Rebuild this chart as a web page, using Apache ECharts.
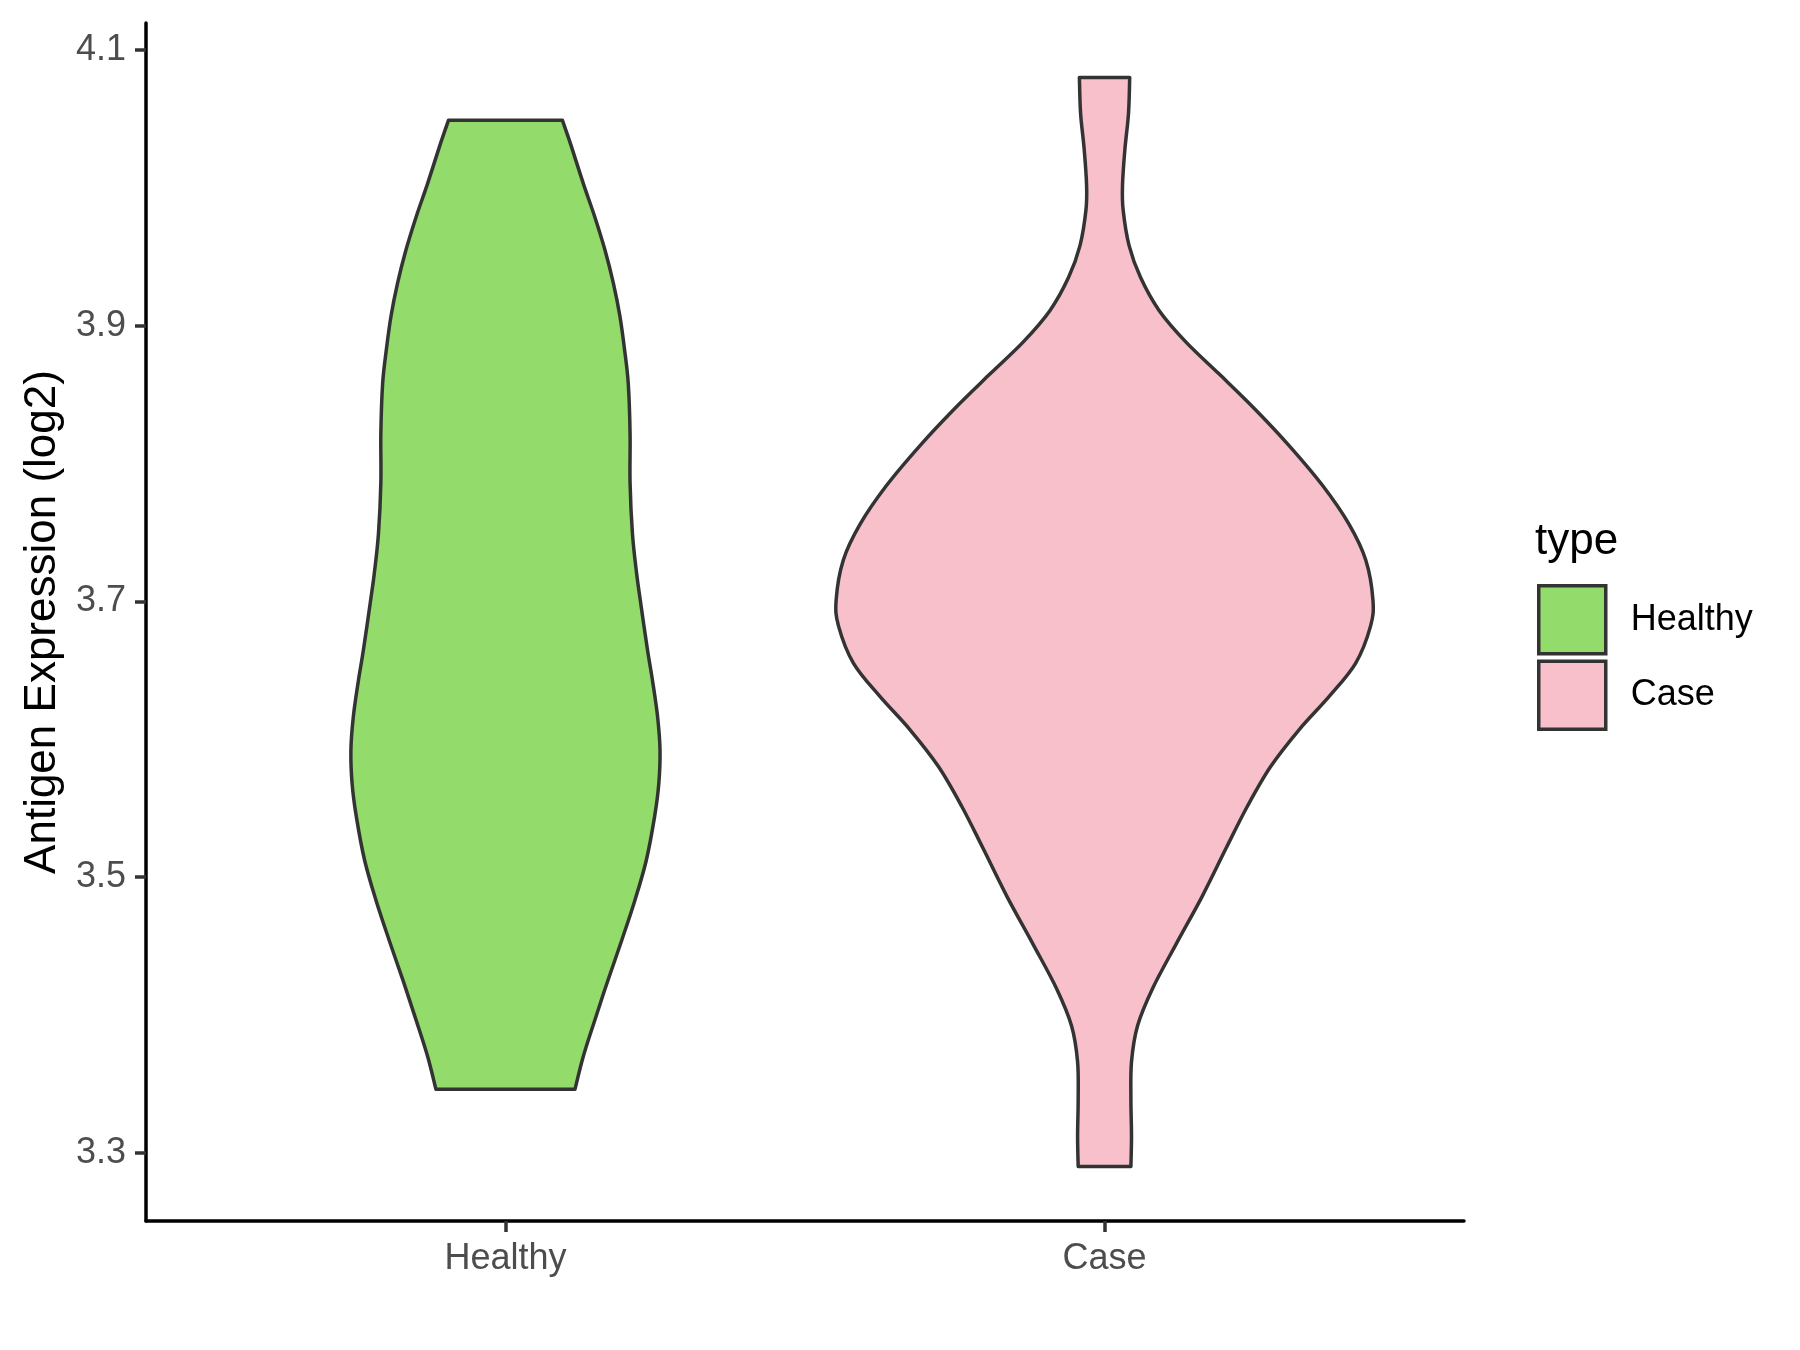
<!DOCTYPE html>
<html>
<head>
<meta charset="utf-8">
<script src="https://cdn.jsdelivr.net/npm/echarts@6/dist/echarts.min.js"></script>
<style>
  html, body { margin: 0; padding: 0; background: #fff; }
  #chart { width: 1800px; height: 1350px; }
</style>
</head>
<body>
<div id="chart"></div>
<script>
// categories on the x axis (positions 1 and 2)
const categories = ['Healthy', 'Case']
const yTicks = [3.3, 3.5, 3.7, 3.9, 4.1]

// violin outlines: y value and half width (in category units)
const healthyY = [4.049, 4.030, 4.003, 3.979, 3.955, 3.931, 3.907, 3.882, 3.858, 3.822, 3.786, 3.749, 3.720, 3.701, 3.665, 3.641, 3.616, 3.592, 3.568, 3.544, 3.512, 3.483, 3.454, 3.425, 3.396, 3.370, 3.346]
const healthyWidth = [0.095, 0.110, 0.130, 0.149, 0.166, 0.180, 0.191, 0.199, 0.205, 0.208, 0.208, 0.212, 0.219, 0.225, 0.237, 0.246, 0.254, 0.258, 0.256, 0.249, 0.235, 0.216, 0.194, 0.171, 0.149, 0.130, 0.116]

const caseY = [4.080, 4.054, 4.028, 4.002, 3.984, 3.958, 3.935, 3.911, 3.888, 3.865, 3.839, 3.813, 3.784, 3.756, 3.730, 3.701, 3.682, 3.655, 3.631, 3.607, 3.580, 3.551, 3.521, 3.486, 3.451, 3.419, 3.392, 3.366, 3.339, 3.312, 3.290]
const caseWidth = [0.042, 0.040, 0.034, 0.030, 0.031, 0.041, 0.060, 0.091, 0.136, 0.191, 0.252, 0.308, 0.364, 0.408, 0.436, 0.448, 0.444, 0.419, 0.375, 0.325, 0.277, 0.238, 0.203, 0.163, 0.119, 0.080, 0.055, 0.045, 0.044, 0.045, 0.044]

const colors = ['#93DB6B', '#F7C0CB']

// catmull-rom through the points -> svg cubic segments
function curve(pts) {
  let d = ''
  for (let i = 0; i < pts.length - 1; i++) {
    const p0 = pts[Math.max(i - 1, 0)]
    const p1 = pts[i]
    const p2 = pts[i + 1]
    const p3 = pts[Math.min(i + 2, pts.length - 1)]
    const c1 = [p1[0] + (p2[0] - p0[0]) / 6, p1[1] + (p2[1] - p0[1]) / 6]
    const c2 = [p2[0] - (p3[0] - p1[0]) / 6, p2[1] - (p3[1] - p1[1]) / 6]
    d += ' C' + c1[0] + ',' + c1[1] + ' ' + c2[0] + ',' + c2[1] + ' ' + p2[0] + ',' + p2[1]
  }
  return d
}

function violin(ys, ws, color) {
  return function (params, api) {
    const center = api.value(0)
    const left = ys.map((y, i) => api.coord([center - ws[i], y]))
    const right = ys.map((y, i) => api.coord([center + ws[i], y])).reverse()
    let d = 'M' + left[0][0] + ',' + left[0][1] + curve(left)
    d += ' L' + right[0][0] + ',' + right[0][1] + curve(right) + ' Z'
    return {
      type: 'path',
      shape: { pathData: d },
      style: { fill: color, stroke: '#333333', lineWidth: 3.5, lineJoin: 'round' }
    }
  }
}

const chart = echarts.init(document.getElementById('chart'))

chart.setOption({
  animation: false,
  backgroundColor: '#ffffff',
  textStyle: { fontFamily: 'Liberation Sans, Arial, sans-serif' },
  title: {
    text: 'type',
    left: 1535,
    top: 520,
    padding: 0,
    textStyle: { fontSize: 44, fontWeight: 'normal', color: '#000000' }
  },
  legend: {
    orient: 'vertical',
    left: 1537,
    top: 584,
    padding: 0,
    itemWidth: 67,
    itemHeight: 68,
    itemGap: 4,
    icon: 'rect',
    itemStyle: { borderColor: '#333333', borderWidth: 3.5 },
    textStyle: { fontSize: 36, color: '#000000', padding: [0, 0, 0, 20] },
    data: categories
  },
  grid: { left: 146, right: 336, top: 23, bottom: 129, outerBoundsMode: 'none', containLabel: false },
  xAxis: {
    type: 'value',
    min: 0.4,
    max: 2.6,
    axisLine: { lineStyle: { color: '#000000', width: 3.5 } },
    axisTick: { customValues: [1, 2], length: 11, lineStyle: { color: '#333333', width: 3.5 } },
    axisLabel: {
      customValues: [1, 2],
      formatter: v => categories[Math.round(v) - 1],
      fontSize: 36,
      color: '#4D4D4D',
      margin: 20
    },
    splitLine: { show: false }
  },
  yAxis: {
    type: 'value',
    min: 3.2505,
    max: 4.1195,
    name: 'Antigen Expression (log2)',
    nameLocation: 'middle',
    nameRotate: 90,
    nameGap: 80,
    nameTextStyle: { fontSize: 44, color: '#000000' },
    axisLine: { show: true, lineStyle: { color: '#000000', width: 3.5 } },
    axisTick: { show: true, customValues: yTicks, length: 11, lineStyle: { color: '#333333', width: 3.5 } },
    axisLabel: {
      customValues: yTicks,
      formatter: v => v.toFixed(1),
      fontSize: 36,
      color: '#4D4D4D',
      margin: 20
    },
    splitLine: { show: false }
  },
  series: [
    {
      name: 'Healthy',
      type: 'custom',
      itemStyle: { color: colors[0] },
      renderItem: violin(healthyY, healthyWidth, colors[0]),
      data: [[1]]
    },
    {
      name: 'Case',
      type: 'custom',
      itemStyle: { color: colors[1] },
      renderItem: violin(caseY, caseWidth, colors[1]),
      data: [[2]]
    }
  ]
})
</script>
</body>
</html>
